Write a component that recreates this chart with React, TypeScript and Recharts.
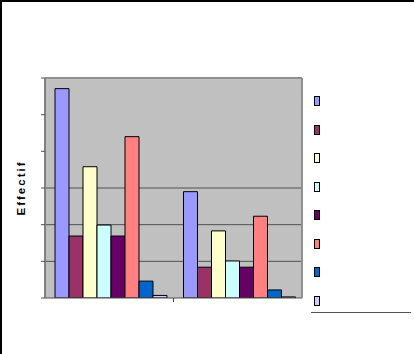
import React from 'react';
import { BarChart, Bar, XAxis, YAxis, CartesianGrid, ReferenceLine } from 'recharts';

const categories = ['Catégorie 1', 'Catégorie 2'];
const seriesNames = ['Série 1', 'Série 2', 'Série 3', 'Série 4', 'Série 5', 'Série 6', 'Série 7', 'Série 8'];
const seriesColors = ['#9999FF', '#993366', '#FFFFCC', '#CCFFFF', '#660066', '#FF8080', '#0066CC', '#CCCCFF'];
const valuesCat1 = [57.1, 16.9, 35.8, 19.9, 16.9, 44.0, 4.6, 0.7];
const valuesCat2 = [29.0, 8.4, 18.3, 10.1, 8.4, 22.3, 2.2, 0.3];
const yTicks = [0, 10, 20, 30, 40, 50, 60];
const gridValues = [10, 20, 30];
const yLabel = 'Effectif';

const catValues = [valuesCat1, valuesCat2];
const data = categories.map((c, ci) => {
  const row: Record<string, any> = { name: c };
  seriesNames.forEach((s, si) => {
    row['s' + si] = catValues[ci][si];
  });
  return row;
});

const Y_AXIS_WIDTH = 45;
const MARGIN = { top: 78, right: 111, bottom: 26, left: 0 };
const PLOT_LEFT = MARGIN.left + Y_AXIS_WIDTH;

const XTick = (props: any) => {
  const { x, y, index } = props;
  if (index !== 0) return <g />;
  const bx = x + (x - PLOT_LEFT);
  return <line x1={bx} x2={bx} y1={y - 4} y2={y} stroke="#404040" strokeWidth={1} />;
};

const YLabel = (props: any) => {
  const vb = props.viewBox || { x: 0, y: 78, width: 45, height: 220 };
  const cx = vb.x + 21;
  const cy = vb.y + vb.height / 2;
  return (
    <text
      x={cx}
      y={cy}
      transform={`rotate(-90, ${cx}, ${cy})`}
      textAnchor="middle"
      dominantBaseline="central"
      fontFamily="'Liberation Sans', Arial, sans-serif"
      fontWeight="bold"
      fontSize={11.5}
      letterSpacing={2}
      fill="#000"
    >
      {yLabel}
    </text>
  );
};

export default function App() {
  return (
    <div
      style={{
        position: 'absolute',
        left: 0,
        top: 0,
        width: 414,
        height: 354,
        background: '#fff',
        overflow: 'hidden',
      }}
    >
      <BarChart
        width={414}
        height={354}
        data={data}
        margin={MARGIN}
        barCategoryGap={10}
        barGap={0}
      >
        <CartesianGrid
          yAxisId="left"
          vertical={false}
          fill="#C0C0C0"
          fillOpacity={1}
          stroke="#505050"
          strokeWidth={1}
          horizontalValues={gridValues}
          syncWithTicks
        />
        <XAxis
          dataKey="name"
          height={30}
          axisLine={{ stroke: '#505050', strokeWidth: 1 }}
          tickLine={{ stroke: 'none' }}
          tickSize={4}
          tickMargin={0}
          tick={<XTick />}
          interval={0}
        />
        <YAxis
          yAxisId="left"
          width={Y_AXIS_WIDTH}
          domain={[0, 60]}
          ticks={yTicks}
          allowDataOverflow
          tickFormatter={() => ''}
          tickSize={4}
          tickLine={{ stroke: '#505050' }}
          axisLine={{ stroke: '#808080', strokeWidth: 2 }}
          label={<YLabel />}
        />
        <YAxis
          yAxisId="right"
          orientation="right"
          width={1}
          domain={[0, 60]}
          tick={false}
          tickLine={false}
          axisLine={{ stroke: '#909090', strokeWidth: 2 }}
        />
        <ReferenceLine yAxisId="left" y={60} stroke="#909090" strokeWidth={2} />
        {seriesNames.map((s, i) => (
          <Bar
            key={s}
            yAxisId="left"
            dataKey={'s' + i}
            name={s}
            fill={seriesColors[i]}
            stroke="#000"
            strokeWidth={1}
            isAnimationActive={false}
          />
        ))}
      </BarChart>
      <div style={{ position: 'absolute', left: 0, top: 0, width: 2, height: 354, background: '#000' }} />
      <div style={{ position: 'absolute', left: 0, top: 0, width: 414, height: 2, background: '#000' }} />
      {seriesNames.map((s, i) => (
        <div
          key={s}
          title={s}
          style={{
            position: 'absolute',
            left: 314,
            top: 96 + i * 28.57,
            width: 6,
            height: 10,
            boxSizing: 'border-box',
            border: '1px solid #000',
            background: seriesColors[i],
          }}
        />
      ))}
      <div
        style={{
          position: 'absolute',
          left: 311,
          top: 312,
          width: 100,
          height: 0,
          borderTop: '1px solid #555',
        }}
      />
    </div>
  );
}
